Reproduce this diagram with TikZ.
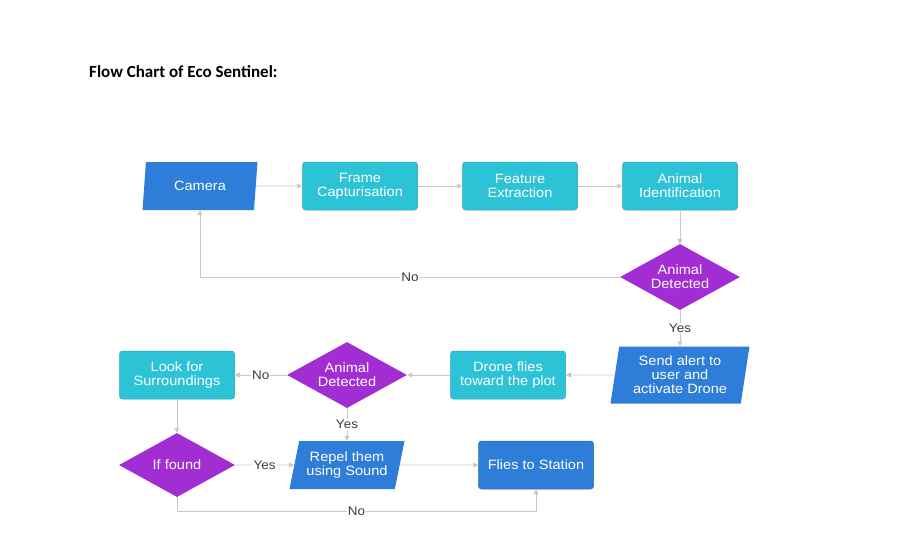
\documentclass[tikz,border=0pt]{standalone}
\usepackage{fontspec}
\setmainfont{Liberation Sans}
\newfontfamily\boxfont{Liberation Sans}[FakeStretch=1.08]
\newfontfamily\titlefont{Carlito}
\usetikzlibrary{shapes.geometric,arrows.meta}
\definecolor{ioblue}{RGB}{46,125,216}
\definecolor{proccyan}{RGB}{45,195,214}
\definecolor{decpurple}{RGB}{161,45,211}
\definecolor{linegray}{RGB}{200,200,200}
\definecolor{lblgray}{RGB}{60,60,60}
\tikzset{
  boxtext/.style={text=white, font=\boxfont\fontsize{13.5}{14}\selectfont, align=center},
  procbox/.style={boxtext, rectangle, rounded corners=3pt, fill=proccyan, draw=proccyan!85!black, line width=0.5pt, minimum width=115pt, minimum height=48pt, inner sep=0pt},
  termbox/.style={procbox, fill=ioblue, draw=ioblue!85!black},
  iobox/.style={boxtext, trapezium, trapezium left angle=70, trapezium right angle=110, trapezium stretches body, fill=ioblue, minimum width=115pt, minimum height=48pt, inner sep=0pt},
  decbox/.style={boxtext, diamond, aspect=1.8, fill=decpurple, minimum width=120pt, minimum height=66pt, inner sep=0pt},
  flowline/.style={draw=linegray, line width=0.8pt, -{Triangle[length=5pt,width=5pt]}},
  answer/.style={fill=white, text=lblgray, font=\boxfont\fontsize{12.5}{12.5}\selectfont, inner sep=1pt},
}
\begin{document}
\begin{tikzpicture}[x=1pt,y=1pt,yscale=-1]
    \useasboundingbox (0,0) rectangle (897,555);

    % Text Node
    \node[anchor=west, inner sep=0pt, font=\titlefont\bfseries\fontsize{17}{17}\selectfont] (title) at (89,72) {Flow Chart of Eco Sentinel:};

    %Shape: Parallelogram
    \node[iobox] (camera) at (200,186) {Camera};
    %Shape: Rectangle
    \node[procbox] (frame) at (360,186) {Frame\\Capturisation};
    %Shape: Rectangle
    \node[procbox] (feature) at (520,186) {Feature\\Extraction};
    %Shape: Rectangle
    \node[procbox] (ident) at (680,186) {Animal\\Identification};
    %Shape: Diamond
    \node[decbox] (detectA) at (680,277) {Animal\\Detected};
    %Shape: Parallelogram
    \node[iobox, minimum width=139pt, minimum height=57pt, trapezium left angle=77, trapezium right angle=103] (alert) at (680,375) {Send alert to\\user and\\activate Drone};
    %Shape: Rectangle
    \node[procbox] (drone) at (508,375) {Drone flies\\toward the plot};
    %Shape: Diamond
    \node[decbox] (detectB) at (347,375) {Animal\\Detected};
    %Shape: Rectangle
    \node[procbox] (look) at (177,375) {Look for\\Surroundings};
    %Shape: Diamond
    \node[decbox, minimum width=116pt, minimum height=64pt] (found) at (177,465) {If found};
    %Shape: Parallelogram
    \node[iobox] (repel) at (347,465) {Repel them\\using Sound};
    %Shape: Rectangle
    \node[termbox] (station) at (536,465) {Flies to Station};

    %Straight Lines
    \draw[flowline] (camera) -- (frame);
    \draw[flowline] (frame) -- (feature);
    \draw[flowline] (feature) -- (ident);
    \draw[flowline] (ident) -- (detectA);
    \draw[flowline] (detectA.west) -| node[answer, pos=0.25] {No} (camera.south);
    \draw[flowline] (detectA) -- node[answer] {Yes} (alert);
    \draw[flowline] (alert) -- (drone);
    \draw[flowline] (drone) -- (detectB);
    \draw[flowline] (detectB) -- node[answer] {No} (look);
    \draw[flowline] (detectB) -- node[answer] {Yes} (repel);
    \draw[flowline] (look) -- (found);
    \draw[flowline] (found) -- node[answer] {Yes} (repel);
    \draw[flowline] (repel) -- (station);
    \draw[flowline] (found.south) -- ++(0,14) -| node[answer, pos=0.25] {No} (station.south);

\end{tikzpicture}
\end{document}
